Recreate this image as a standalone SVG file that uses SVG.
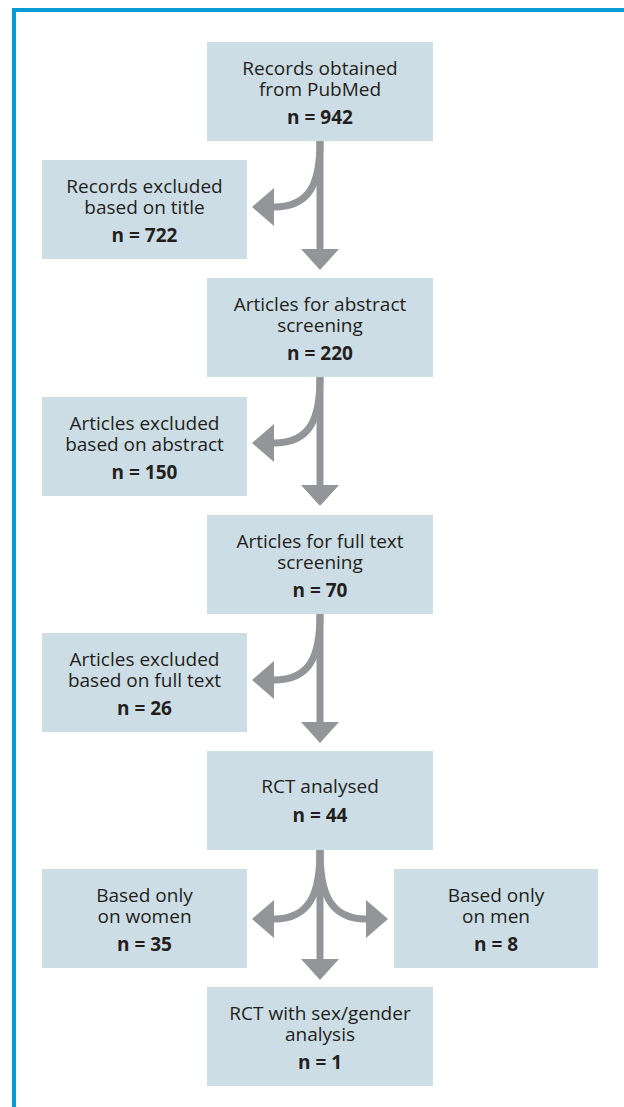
<svg xmlns="http://www.w3.org/2000/svg" width="624" height="1107" viewBox="0 0 624 1107">
<style>
.box{fill:#cddde5}
.t{font-family:"Open Sans","Noto Sans",sans-serif;font-size:19px;fill:#231f20;text-anchor:middle}
.n{font-weight:bold}
.stem{fill:none;stroke:#939598;stroke-width:7}
.head{fill:#939598}
</style>
<rect x="0" y="0" width="624" height="1107" fill="#ffffff"/>
<path d="M14,1107 V10 H624" fill="none" stroke="#0a9bd5" stroke-width="4"/>
<g id="connectors">
  <path class="stem" d="M320,141 V250"/>
  <polygon class="head" points="301,249 339,249 320,270"/>
  <path class="stem" d="M320,141 C320,182 311,207 274,207"/>
  <polygon class="head" points="274,188 274,226 252,207"/>

  <path class="stem" d="M320,377 V486"/>
  <polygon class="head" points="301,485 339,485 320,506"/>
  <path class="stem" d="M320,377 C320,418 311,443 274,443"/>
  <polygon class="head" points="274,424 274,462 252,443"/>

  <path class="stem" d="M320,614 V723"/>
  <polygon class="head" points="301,722 339,722 320,743"/>
  <path class="stem" d="M320,614 C320,655 311,680 274,680"/>
  <polygon class="head" points="274,661 274,699 252,680"/>

  <path class="stem" d="M320,850 V960"/>
  <polygon class="head" points="301,959 339,959 320,980"/>
  <path class="stem" d="M320,850 C320,892 311,919 274,919"/>
  <polygon class="head" points="274,900 274,938 252,919"/>
  <path class="stem" d="M320,850 C320,892 329,919 366,919"/>
  <polygon class="head" points="366,900 366,938 388,919"/>
</g>
<g id="node1">
  <rect class="box" x="207" y="42" width="226" height="99"/>
  <text class="t" x="320" y="75">Records obtained</text>
  <text class="t" x="320" y="95.5">from PubMed</text>
  <text class="t n" x="320" y="124">n = 942</text>
</g>
<g id="node2">
  <rect class="box" x="42" y="160" width="205" height="99"/>
  <text class="t" x="144.5" y="193">Records excluded</text>
  <text class="t" x="144.5" y="213.5">based on title</text>
  <text class="t n" x="144.5" y="242">n = 722</text>
</g>
<g id="node3">
  <rect class="box" x="207" y="278" width="226" height="99"/>
  <text class="t" x="320" y="311">Articles for abstract</text>
  <text class="t" x="320" y="331.5">screening</text>
  <text class="t n" x="320" y="360">n = 220</text>
</g>
<g id="node4">
  <rect class="box" x="42" y="397" width="205" height="99"/>
  <text class="t" x="144.5" y="430">Articles excluded</text>
  <text class="t" x="144.5" y="450.5">based on abstract</text>
  <text class="t n" x="144.5" y="479">n = 150</text>
</g>
<g id="node5">
  <rect class="box" x="207" y="515" width="226" height="99"/>
  <text class="t" x="320" y="548">Articles for full text</text>
  <text class="t" x="320" y="568.5">screening</text>
  <text class="t n" x="320" y="597">n = 70</text>
</g>
<g id="node6">
  <rect class="box" x="42" y="633" width="205" height="99"/>
  <text class="t" x="144.5" y="666">Articles excluded</text>
  <text class="t" x="144.5" y="686.5">based on full text</text>
  <text class="t n" x="144.5" y="715">n = 26</text>
</g>
<g id="node7">
  <rect class="box" x="207" y="751" width="226" height="99"/>
  <text class="t" x="320" y="793">RCT analysed</text>
  <text class="t n" x="320" y="822">n = 44</text>
</g>
<g id="node8">
  <rect class="box" x="42" y="869" width="205" height="99"/>
  <text class="t" x="144.5" y="902">Based only</text>
  <text class="t" x="144.5" y="922.5">on women</text>
  <text class="t n" x="144.5" y="951">n = 35</text>
</g>
<g id="node9">
  <rect class="box" x="394" y="869" width="204" height="99"/>
  <text class="t" x="496" y="902">Based only</text>
  <text class="t" x="496" y="922.5">on men</text>
  <text class="t n" x="496" y="951">n = 8</text>
</g>
<g id="node10">
  <rect class="box" x="207" y="987" width="226" height="99"/>
  <text class="t" x="320" y="1020">RCT with sex/gender</text>
  <text class="t" x="320" y="1040.5">analysis</text>
  <text class="t n" x="320" y="1069">n = 1</text>
</g>
</svg>
